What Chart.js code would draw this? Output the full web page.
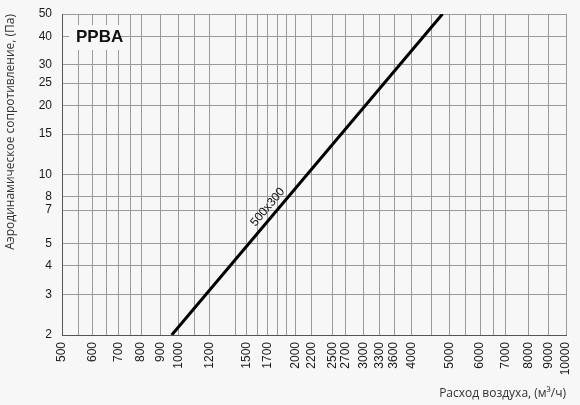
<!DOCTYPE html>
<html>
<head>
<meta charset="utf-8">
<script src="https://cdn.jsdelivr.net/npm/chart.js@4"></script>
<style>
  html, body { margin: 0; padding: 0; background: #f7f7f7; }
  canvas { display: block; }
</style>
</head>
<body>
<canvas id="chart" width="580" height="405"></canvas>
<script>
const flowValues = [960, 4800];
const pressureValues = [2, 50];

// grid lines on the x axis, only some of them get a label
const xGridValues = [500, 550, 600, 650, 700, 750, 800, 900, 1000, 1100, 1200, 1400, 1500, 1600,
  1700, 1800, 1900, 2000, 2200, 2500, 2700, 3000, 3300, 3600, 4000, 4500, 5000, 5500, 6000, 6500,
  7000, 8000, 9000, 10000];
const xTickLabels = [500, 600, 700, 800, 900, 1000, 1200, 1500, 1700, 2000, 2200, 2500, 2700,
  3000, 3300, 3600, 4000, 5000, 6000, 7000, 8000, 9000, 10000];
const yTickLabels = [2, 3, 4, 5, 7, 8, 10, 15, 20, 25, 30, 40, 50];

const seriesName = '500x300';
const chartTag = 'PPBA';
const bg = '#f7f7f7';

const labelsPlugin = {
  id: 'labels',
  beforeDraw(chart) {
    const ctx = chart.ctx;
    ctx.save();
    ctx.fillStyle = bg;
    ctx.fillRect(0, 0, chart.width, chart.height);
    ctx.restore();
  },
  afterDatasetsDraw(chart) {
    const ctx = chart.ctx;
    const xs = chart.scales.x, ys = chart.scales.y;
    const area = chart.chartArea;

    // tag in the top left corner, sitting on a patch that hides the grid
    ctx.save();
    ctx.fillStyle = bg;
    ctx.fillRect(area.left + 7, area.top + 11, 51, 25);
    ctx.fillStyle = '#111';
    ctx.font = 'bold 17px "Liberation Sans", Arial, sans-serif';
    ctx.textBaseline = 'middle';
    ctx.fillText(chartTag, area.left + 14, area.top + 23);
    ctx.restore();

    // series name written along the line
    const x0 = xs.getPixelForValue(flowValues[0]), y0 = ys.getPixelForValue(pressureValues[0]);
    const x1 = xs.getPixelForValue(flowValues[1]), y1 = ys.getPixelForValue(pressureValues[1]);
    const ang = Math.atan2(y1 - y0, x1 - x0);
    const t = 0.38;
    const px = x0 + (x1 - x0) * t, py = y0 + (y1 - y0) * t;
    ctx.save();
    ctx.translate(px, py);
    ctx.rotate(ang);
    ctx.fillStyle = '#111';
    ctx.font = '12px "Liberation Sans", Arial, sans-serif';
    ctx.textAlign = 'center';
    ctx.textBaseline = 'bottom';
    ctx.fillText(seriesName, 0, -3);
    ctx.restore();
  }
};

new Chart(document.getElementById('chart'), {
  type: 'line',
  data: {
    datasets: [{
      label: seriesName,
      data: flowValues.map((q, i) => ({ x: q, y: pressureValues[i] })),
      borderColor: '#000',
      borderWidth: 3,
      pointRadius: 0,
      fill: false,
      tension: 0
    }]
  },
  options: {
    responsive: false,
    animation: false,
    layout: { padding: { top: 14, right: 14, left: 0, bottom: 0 } },
    plugins: { legend: { display: false }, tooltip: { enabled: false } },
    scales: {
      x: {
        type: 'logarithmic',
        min: 500,
        max: 10000,
        afterBuildTicks: s => { s.ticks = xGridValues.map(v => ({ value: v })); },
        afterFit: s => { s.height = 70; s.paddingLeft = 0; s.paddingRight = 0; },
        grid: { color: '#9a9a9a', drawTicks: false },
        border: { color: '#555' },
        ticks: {
          autoSkip: false,
          minRotation: 90,
          maxRotation: 90,
          padding: 7,
          color: '#1a1a1a',
          font: { family: '"Liberation Sans", Arial, sans-serif', size: 12 },
          callback: v => xTickLabels.includes(v) ? String(v) : ''
        },
        title: {
          display: true,
          text: 'Расход воздуха, (м³/ч)',
          align: 'end',
          color: '#333',
          font: { family: '"Open Sans", sans-serif', size: 12 },
          padding: { top: 0, bottom: 4 }
        }
      },
      y: {
        type: 'logarithmic',
        min: 2,
        max: 50,
        afterBuildTicks: s => { s.ticks = yTickLabels.map(v => ({ value: v })); },
        afterFit: s => { s.width = 62; s.paddingTop = 0; s.paddingBottom = 0; },
        grid: { color: '#9a9a9a', drawTicks: false },
        border: { color: '#555' },
        ticks: {
          padding: 10,
          color: '#1a1a1a',
          font: { family: '"Liberation Sans", Arial, sans-serif', size: 12 },
          callback: v => String(v)
        },
        title: {
          display: true,
          text: 'Аэродинамическое сопротивление, (Па)',
          align: 'end',
          color: '#333',
          font: { family: '"Open Sans", sans-serif', size: 12 },
          padding: { top: 3, bottom: 0 }
        }
      }
    }
  },
  plugins: [labelsPlugin]
});
</script>
</body>
</html>
